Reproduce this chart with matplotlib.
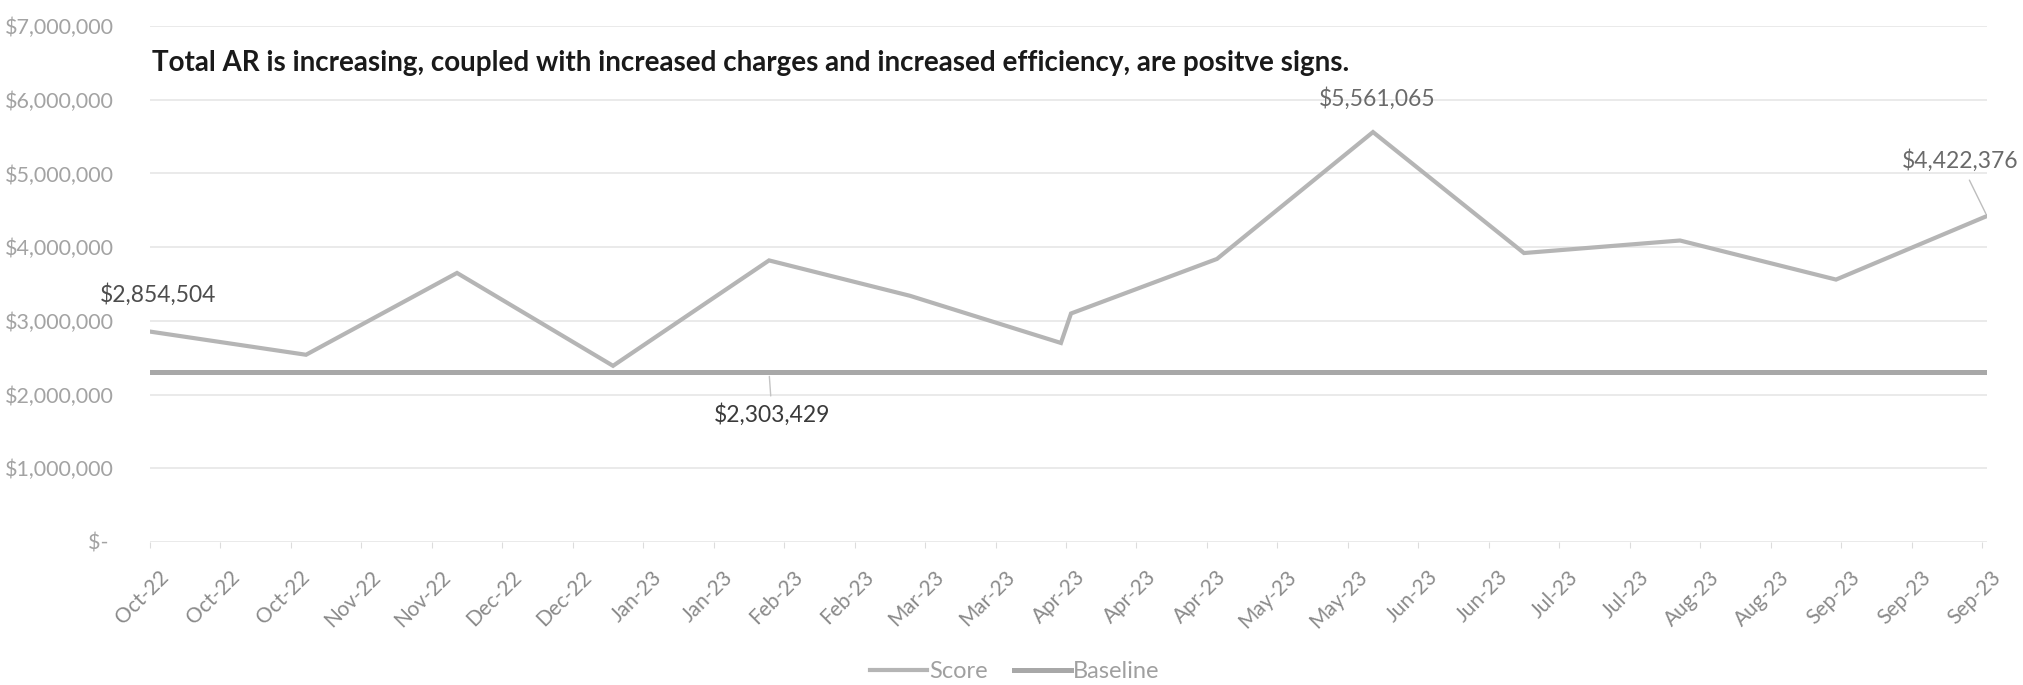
import matplotlib
matplotlib.use("Agg")
import matplotlib.pyplot as plt
import matplotlib.dates as mdates
import matplotlib.transforms as mtransforms
from matplotlib.ticker import FuncFormatter
import pandas as pd

plt.rcParams['font.family'] = ['Lato', 'DejaVu Sans']

# monthly AR totals (a second point in early April after the correction)
score_dates = ["2022-10-01", "2022-11-01", "2022-12-01", "2023-01-01", "2023-02-01",
               "2023-03-01", "2023-03-31", "2023-04-02", "2023-05-01", "2023-06-01",
               "2023-07-01", "2023-08-01", "2023-09-01", "2023-10-01"]
score_values = [2854504, 2540000, 3650000, 2390000, 3820000,
                3340000, 2700000, 3100000, 3840000, 5561065,
                3920000, 4090000, 3560000, 4422376]
baseline_value = 2303429
baseline_label_date = "2023-02-01"

title = ("Total AR is increasing, coupled with increased charges and "
         "increased efficiency, are positve signs.")

dates = pd.to_datetime(score_dates)
baseline = [baseline_value] * len(dates)

W, H = 2024, 685
fig = plt.figure(figsize=(W / 100, H / 100), dpi=100)
ax = fig.add_axes([150 / W, 1 - 542 / H, (1987 - 150) / W, (542 - 26) / H])

score_col = '#b5b5b5'
base_col = '#a8a8a8'
ax.plot(dates, score_values, color=score_col, lw=3.0, solid_joinstyle='miter', label='Score', zorder=3)
ax.plot(dates, baseline, color=base_col, lw=3.6, label='Baseline', zorder=2)

ax.set_ylim(0, 7000000)
ax.set_yticks(range(0, 7000001, 1000000))
ax.yaxis.set_major_formatter(FuncFormatter(lambda v, p: "$- " if v == 0 else "${:,.0f}".format(v)))
ax.set_xlim(dates[0], dates[-1])
ticks = pd.date_range("2022-10-01", "2023-09-30", freq="14D")
ax.set_xticks(ticks)
ax.xaxis.set_major_formatter(mdates.DateFormatter("%b-%y"))

ax.grid(axis='y', color='#e6e6e6', lw=1.2)
ax.set_axisbelow(True)
for s in ax.spines.values():
    s.set_visible(False)
ax.tick_params(axis='y', length=0, pad=26, labelsize=15.5, labelcolor='#a3a3a3')
ax.tick_params(axis='x', length=4, color='#dcdcdc', pad=14, labelsize=15, labelcolor='#8a8a8a')
shift = mtransforms.ScaledTranslation(9 / 100, 0, fig.dpi_scale_trans)
for lbl in ax.get_xticklabels():
    lbl.set_rotation(45)
    lbl.set_ha('right')
    lbl.set_va('top')
    lbl.set_rotation_mode('anchor')
    lbl.set_transform(lbl.get_transform() + shift)

# data labels
lab_kw = dict(textcoords='offset pixels', ha='center', va='center', fontsize=16.5)
ax.annotate("${:,.0f}".format(score_values[0]), (dates[0], score_values[0]),
            xytext=(8, 37), color='#4d4d4d', **lab_kw)
peak = score_values.index(max(score_values))
ax.annotate("${:,.0f}".format(score_values[peak]), (dates[peak], score_values[peak]),
            xytext=(4, 34), color='#6a6a6a', **lab_kw)
ax.annotate("${:,.0f}".format(score_values[-1]), (dates[-1], score_values[-1]),
            xytext=(-27, 55), color='#6a6a6a', annotation_clip=False,
            arrowprops=dict(arrowstyle='-', color='#bdbdbd', lw=1, shrinkA=4, shrinkB=2), **lab_kw)
ax.annotate("${:,.0f}".format(baseline_value), (pd.Timestamp(baseline_label_date), baseline_value),
            xytext=(3, -42), color='#3a3a3a',
            arrowprops=dict(arrowstyle='-', color='#c4c4c4', lw=1, shrinkA=3, shrinkB=3), **lab_kw)

fig.text(152 / W, 1 - 63 / H, title, fontsize=20, fontweight='bold', color='#1a1a1a',
         ha='left', va='center')

leg = fig.legend(loc='center', bbox_to_anchor=(1015 / W, 1 - 672 / H), ncol=2, frameon=False,
                 fontsize=17, handlelength=2.4, columnspacing=1.1, handletextpad=0.1)
for t in leg.get_texts():
    t.set_color('#a0a0a0')

fig.savefig("out.png", dpi=100)
